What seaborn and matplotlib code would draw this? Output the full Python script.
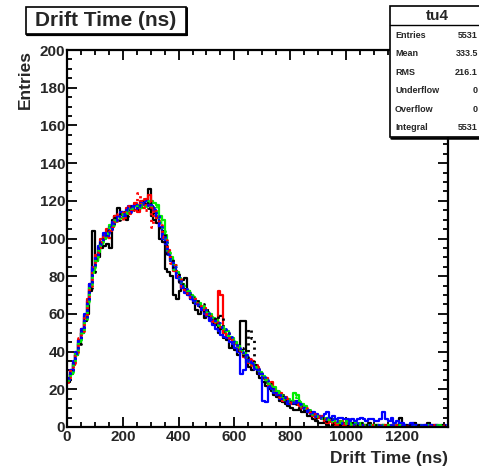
import numpy as np
import pandas as pd
import matplotlib
matplotlib.use("Agg")
import matplotlib.pyplot as plt
from matplotlib.patches import Rectangle
from matplotlib.ticker import MultipleLocator
import seaborn as sns

# ---------------- data (10 ns bins, 0 .. 1360 ns) ----------------
bin_width = 10
n_bins = 136
x_max = 1366

black = [24, 28, 34, 38, 44, 50, 56, 60, 72, 104,
         88, 90, 95, 96, 97, 95, 110, 112, 116, 114,
         112, 110, 114, 116, 118, 115, 117, 120, 118, 126,
         112, 110, 108, 100, 98, 84, 82, 80, 70, 68,
         72, 78, 79, 72, 68, 66, 62, 60, 62, 58,
         60, 57, 55, 54, 50, 52, 47, 46, 42, 44,
         41, 38, 56, 56, 34, 32, 30, 33, 28, 26,
         24, 22, 20, 19, 17, 16, 14, 13, 12, 11,
         10, 9, 9, 10, 8, 8, 6, 6, 4, 3,
         2, 2, 3, 1, 0, 1, 2, 0, 1, 0,
         1, 0, 2, 1, 0, 1, 1, 0, 2, 0,
         0, 1, 0, 1, 0, 0, 1, 0, 1, 5,
         1, 0, 0, 1, 2, 0, 1, 0, 0, 2,
         0, 1, 0, 0, 1, 0]

red = [26, 30, 33, 40, 46, 52, 59, 68, 76, 84,
       91, 95, 100, 102, 105, 104, 106, 112, 110, 113,
       111, 116, 113, 117, 119, 114, 120, 116, 121, 123,
       117, 114, 112, 106, 102, 97, 94, 88, 83, 80,
       77, 74, 72, 70, 69, 67, 66, 64, 62, 63,
       60, 58, 57, 55, 72, 70, 50, 49, 47, 45,
       44, 42, 40, 37, 36, 34, 35, 31, 32, 28,
       26, 26, 22, 24, 19, 17, 18, 14, 16, 13,
       12, 14, 13, 11, 10, 9, 8, 8, 6, 5,
       5, 4, 3, 2, 3, 2, 1, 2, 3, 1,
       2, 1, 1, 2, 1, 1, 0, 1, 1, 0,
       1, 0, 1, 0, 1, 0, 0, 1, 0, 0,
       1, 0, 0, 0, 1, 0, 0, 0, 1, 0,
       0, 0, 1, 0, 0, 0]

green = [25, 28, 34, 38, 45, 50, 58, 65, 74, 82,
         88, 93, 97, 100, 102, 107, 108, 109, 112, 111,
         114, 113, 116, 115, 117, 118, 116, 119, 117, 118,
         120, 119, 118, 112, 110, 102, 93, 90, 86, 82,
         79, 76, 73, 72, 70, 69, 67, 66, 63, 62,
         61, 60, 58, 57, 55, 53, 52, 51, 48, 47,
         45, 43, 41, 39, 37, 35, 33, 32, 30, 29,
         27, 25, 23, 21, 21, 19, 17, 16, 15, 15,
         14, 18, 17, 13, 12, 11, 9, 8, 7, 6,
         6, 5, 4, 5, 3, 4, 2, 3, 2, 2,
         3, 2, 1, 2, 1, 2, 1, 1, 0, 1,
         1, 1, 0, 1, 0, 1, 0, 0, 1, 0,
         0, 1, 0, 0, 0, 1, 0, 0, 0, 1,
         0, 0, 0, 1, 0, 0]

blue = [25, 30, 35, 40, 46, 52, 60, 67, 76, 85,
        90, 96, 98, 103, 101, 106, 109, 110, 112, 114,
        112, 115, 117, 116, 118, 117, 119, 118, 120, 118,
        117, 115, 111, 106, 100, 97, 92, 88, 84, 79,
        77, 74, 71, 70, 68, 67, 65, 64, 62, 60,
        59, 56, 54, 52, 51, 49, 48, 47, 45, 44,
        42, 40, 28, 30, 38, 36, 34, 31, 30, 28,
        14, 13, 21, 20, 18, 17, 15, 15, 14, 12,
        13, 12, 14, 12, 10, 9, 8, 7, 8, 7,
        6, 6, 7, 8, 5, 6, 4, 5, 5, 4,
        4, 3, 4, 3, 4, 5, 4, 3, 4, 4,
        3, 3, 4, 8, 4, 3, 5, 2, 3, 2,
        2, 1, 1, 2, 1, 1, 0, 1, 1, 0,
        1, 0, 1, 0, 0, 1]

black_dot = [26, 29, 34, 39, 44, 52, 57, 66, 74, 82,
             89, 95, 99, 100, 104, 105, 107, 111, 110, 113,
             114, 112, 116, 117, 115, 118, 117, 119, 120, 116,
             119, 113, 111, 105, 104, 96, 92, 90, 84, 82,
             77, 76, 73, 70, 71, 67, 68, 64, 65, 61,
             62, 58, 59, 55, 60, 58, 51, 50, 47, 46,
             44, 41, 42, 38, 37, 52, 47, 33, 31, 30,
             26, 24, 23, 20, 20, 18, 16, 17, 14, 13,
             12, 13, 12, 11, 11, 9, 9, 7, 7, 5,
             5, 5, 4, 3, 4, 2, 3, 2, 2, 2,
             1, 2, 2, 1, 1, 2, 1, 1, 0, 1,
             1, 0, 1, 1, 0, 0, 1, 0, 1, 0,
             0, 1, 0, 1, 0, 0, 1, 0, 0, 0,
             1, 0, 0, 0, 1, 0]

red_dot = [24, 31, 34, 38, 47, 51, 59, 67, 75, 85,
           91, 93, 98, 102, 100, 104, 109, 108, 113, 110,
           115, 113, 117, 114, 119, 124, 117, 121, 115, 120,
           106, 116, 110, 107, 101, 99, 93, 87, 86, 80,
           79, 75, 72, 71, 69, 69, 66, 66, 63, 61,
           60, 59, 56, 56, 54, 52, 51, 49, 46, 47,
           44, 41, 41, 38, 36, 36, 33, 33, 30, 29,
           28, 25, 24, 21, 20, 17, 16, 15, 16, 14,
           12, 13, 12, 12, 10, 10, 8, 7, 7, 6,
           5, 6, 4, 4, 3, 3, 2, 3, 2, 1,
           2, 1, 2, 1, 1, 0, 1, 1, 0, 1,
           0, 1, 0, 1, 0, 1, 0, 0, 1, 0,
           0, 0, 1, 0, 0, 0, 1, 0, 0, 1,
           0, 1, 0, 0, 0, 1]

green_dot = [25, 29, 34, 40, 45, 51, 57, 66, 76, 82,
             89, 94, 98, 101, 103, 106, 107, 110, 111, 113,
             114, 113, 115, 116, 117, 116, 119, 118, 117, 120,
             118, 117, 114, 109, 104, 98, 94, 88, 84, 82,
             78, 76, 74, 71, 70, 69, 66, 65, 64, 63,
             60, 60, 57, 56, 54, 54, 51, 49, 49, 46,
             45, 43, 40, 39, 36, 35, 34, 32, 31, 28,
             27, 24, 24, 21, 19, 19, 17, 15, 15, 14,
             13, 14, 16, 12, 11, 10, 9, 8, 7, 6,
             6, 5, 5, 4, 4, 3, 3, 2, 3, 2,
             2, 2, 1, 2, 1, 1, 1, 0, 1, 1,
             0, 1, 1, 0, 1, 0, 1, 0, 0, 1,
             0, 1, 0, 0, 1, 0, 0, 1, 0, 0,
             0, 0, 1, 0, 1, 0]

blue_dot = [26, 30, 35, 39, 46, 52, 58, 67, 75, 84,
            90, 95, 97, 102, 103, 105, 108, 110, 112, 112,
            113, 115, 114, 117, 116, 118, 117, 119, 118, 119,
            116, 116, 112, 108, 102, 98, 92, 89, 85, 81,
            78, 75, 73, 71, 69, 68, 67, 64, 63, 62,
            61, 58, 58, 55, 55, 53, 52, 50, 48, 46,
            45, 42, 40, 37, 36, 35, 34, 31, 31, 29,
            27, 25, 22, 21, 20, 18, 17, 16, 14, 14,
            13, 12, 13, 12, 11, 10, 9, 8, 7, 6,
            6, 5, 5, 4, 4, 3, 3, 3, 2, 2,
            2, 2, 2, 1, 2, 1, 1, 1, 1, 0,
            1, 1, 0, 1, 0, 1, 0, 1, 0, 0,
            1, 0, 0, 1, 0, 0, 0, 1, 0, 0,
            0, 1, 0, 0, 0, 0]

series_names = ["black", "red", "green", "blue",
                "black_dot", "red_dot", "green_dot", "blue_dot"]
series_values = [black, red, green, blue,
                 black_dot, red_dot, green_dot, blue_dot]
series_colors = ["#000000", "#ff0000", "#00ee00", "#0000ff",
                 "#000000", "#ff0000", "#00ee00", "#0000ff"]
series_dotted = [False, False, False, False, True, True, True, True]

x_ticks = [0, 200, 400, 600, 800, 1000, 1200]
y_ticks = [0, 20, 40, 60, 80, 100, 120, 140, 160, 180, 200]

stats_title = "tu4"
stats_labels = ["Entries", "Mean", "RMS", "Underflow", "Overflow", "Integral"]
stats_values = ["5531", "333.5", "216.1", "0", "0", "5531"]

# ---------------- figure ----------------
sns.set_style("ticks")
plt.rcParams["font.family"] = ["Liberation Sans", "DejaVu Sans"]
plt.rcParams["font.weight"] = "bold"

fig = plt.figure(figsize=(4.79, 4.68), dpi=100)
ax = fig.add_axes([67 / 479, 1 - 427 / 468, (448 - 67) / 479, (427 - 50) / 468])

centers = np.arange(n_bins) * bin_width + bin_width / 2

rows = []
for name, vals in zip(series_names, series_values):
    for c, v in zip(centers, vals):
        rows.append((name, float(c), float(v)))
df = pd.DataFrame(rows, columns=["series", "time", "count"])

for name, col, dotted in zip(series_names, series_colors, series_dotted):
    sub = df[df["series"] == name].reset_index(drop=True)
    sns.histplot(data=sub, x="time", weights="count",
                 binwidth=bin_width, binrange=(0, n_bins * bin_width),
                 element="step", fill=False, color=col, ax=ax,
                 linewidth=2.0 if dotted else 1.6,
                 linestyle=(0, (0.8, 1.6)) if dotted else "-")

ax.set_xlim(0, x_max)
ax.set_ylim(0, 200)

ax.xaxis.set_minor_locator(MultipleLocator(50))
ax.yaxis.set_minor_locator(MultipleLocator(5))
ax.set_xticks(x_ticks)
ax.set_yticks(y_ticks)
ax.set_xticklabels([str(t) for t in x_ticks])
ax.set_yticklabels([str(t) for t in y_ticks])

ax.tick_params(which="both", direction="in", top=True, right=True,
               width=1.3, color="black")
ax.tick_params(which="major", length=7.5)
ax.tick_params(which="minor", length=3.8)
ax.tick_params(axis="x", which="major", labelsize=11, pad=2.5)
ax.tick_params(axis="y", which="major", labelsize=11, pad=1.2)
for lab in ax.get_xticklabels() + ax.get_yticklabels():
    lab.set_fontweight("bold")
for sp in ax.spines.values():
    sp.set_linewidth(1.6)
    sp.set_color("black")

ax.set_xlabel("Drift Time (ns)", fontsize=12.5, fontweight="bold", loc="right")
ax.xaxis.set_label_coords(1.0, -0.063)
ax.set_ylabel("Entries", fontsize=12.5, fontweight="bold", loc="top")
ax.yaxis.set_label_coords(-0.09, 1.0)

# ---------------- title box ----------------
W, H = 479.0, 468.0
def fx(px):
    return px / W
def fy(py):
    return 1 - py / H

fig.patches.append(Rectangle((fx(26), fy(34)), fx(186) - fx(26), fy(7) - fy(34),
                             transform=fig.transFigure, fill=True, facecolor="white",
                             edgecolor="black", linewidth=1.2))
fig.lines.append(plt.Line2D([fx(27), fx(187)], [fy(34.5), fy(34.5)],
                            transform=fig.transFigure, color="black", linewidth=1.6))
fig.lines.append(plt.Line2D([fx(186.5), fx(186.5)], [fy(8), fy(34.5)],
                            transform=fig.transFigure, color="black", linewidth=1.4))
fig.text(fx(106), fy(20.5), "Drift Time (ns)", fontsize=15, fontweight="bold",
         ha="center", va="center")

# ---------------- stats box ----------------
fig.patches.append(Rectangle((fx(390), fy(137)), fx(490) - fx(390), fy(6) - fy(137),
                             transform=fig.transFigure, fill=True, facecolor="white",
                             edgecolor="black", linewidth=1.2, zorder=5))
fig.lines.append(plt.Line2D([fx(391), fx(490)], [fy(138), fy(138)],
                            transform=fig.transFigure, color="black", linewidth=1.8, zorder=6))
fig.lines.append(plt.Line2D([fx(390), fx(490)], [fy(25), fy(25)],
                            transform=fig.transFigure, color="black", linewidth=1.0, zorder=6))
fig.text(fx(437), fy(16), stats_title, fontsize=11, fontweight="bold",
         ha="center", va="center", zorder=7)
row_y = [35, 53.6, 72.2, 90.8, 109.4, 128]
for yy, lab, val in zip(row_y, stats_labels, stats_values):
    fig.text(fx(395), fy(yy), lab, fontsize=6.5, fontweight="bold",
             ha="left", va="center", zorder=7)
    fig.text(fx(478), fy(yy), val, fontsize=6.5, fontweight="bold",
             ha="right", va="center", zorder=7)

fig.savefig("out.png", dpi=100)
